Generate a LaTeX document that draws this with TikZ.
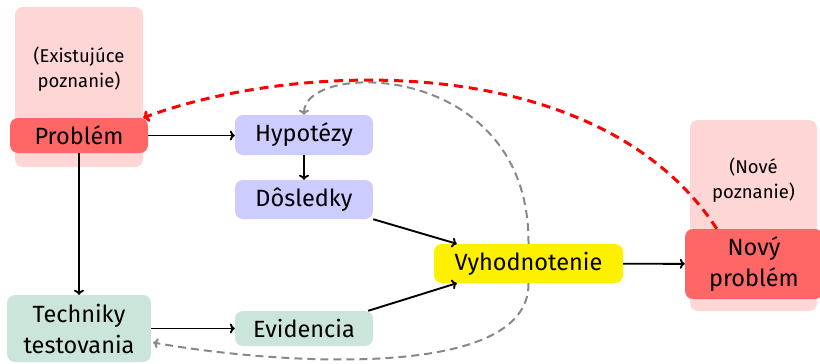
\documentclass[tikz,border=0pt]{standalone}
\usepackage{fontspec}
\setmainfont{Fira Sans}
\usetikzlibrary{arrows.meta,calc}
\definecolor{bgpink}{HTML}{FFD6D6}
\definecolor{probred}{HTML}{FF6666}
\definecolor{lav}{HTML}{CCCCFF}
\definecolor{yel}{HTML}{FFF000}
\definecolor{mint}{HTML}{CCE5DB}
\definecolor{dgray}{HTML}{888888}
\tikzset{
  box/.style={rectangle, rounded corners=8pt, inner sep=0pt, align=center, font=\fontsize{23.5}{31}\selectfont},
  bg/.style={rectangle, rounded corners=8pt, fill=bgpink, inner sep=0pt},
  small/.style={align=center, font=\fontsize{18.5}{25}\selectfont, inner sep=0pt},
  arr/.style={-{To[length=5pt,width=10pt]}, line width=1.9pt, black},
  garr/.style={-{To[length=5pt,width=10pt]}, line width=2pt, dgray, dash pattern=on 8pt off 5pt},
  rarr/.style={-{To[length=6pt,width=12pt]}, line width=3pt, red, dash pattern=on 9pt off 6pt},
}
\begin{document}
\begin{tikzpicture}[x=1pt,y=-1pt]
\useasboundingbox (0,0) rectangle (820,364);
% backgrounds
\node[bg, minimum width=128pt, minimum height=160pt] (exbg) at (79,87) {};
\node[bg, minimum width=127pt, minimum height=191pt] (novbg) at (753.5,215.5) {};
\node[small] (exl) at (79,69) {(Existujúce\\poznanie)};
\node[small] (novl) at (753.5,180) {(Nové\\poznanie)};
% nodes
\node[box, fill=probred, minimum width=138pt, minimum height=35pt] (prob) at (79,135.5) {Problém};
\node[box, fill=lav, minimum width=138pt, minimum height=40pt] (hyp) at (304,135) {Hypotézy};
\node[box, fill=lav, minimum width=138pt, minimum height=39pt] (dos) at (304,199.5) {Dôsledky};
\node[box, fill=yel, minimum width=189pt, minimum height=39pt] (vyh) at (528.5,263.5) {Vyhodnotenie};
\node[box, fill=probred, minimum width=138pt, minimum height=70pt] (nov) at (754,264) {Nový\\problém};
\node[box, fill=mint, minimum width=144pt, minimum height=67pt] (tech) at (79,328.5) {Techniky\\testovania};
\node[box, fill=mint, minimum width=138pt, minimum height=35pt] (evid) at (304,328.5) {Evidencia};
% black arrows
\draw[arr] (prob.east) -- (hyp.west |- prob.east);
\draw[arr] (hyp) -- (dos);
\draw[arr] (prob) -- (tech);
\draw[arr] (tech.east |- evid) -- (evid.west);
\draw[arr] (dos.south east) -- ($(vyh.north west)+(23,0)$);
\draw[arr] ($(evid.north east)+(-5,0)$) -- ($(vyh.south west)+(23,0)$);
\draw[arr] (vyh) -- (nov);
% gray dashed
\draw[garr] (vyh.north) .. controls (530,60) and (303,60) .. (hyp.north);
\draw[garr] (vyh.south) .. controls (530,385) and (260,362) .. ($(tech.east)+(2,14)$);
% red dashed
\draw[rarr] ($(nov.north west)+(32,0)$) .. controls (600,50) and (300,60) .. ($(prob.north east)+(-5,0)$);
\end{tikzpicture}
\end{document}
